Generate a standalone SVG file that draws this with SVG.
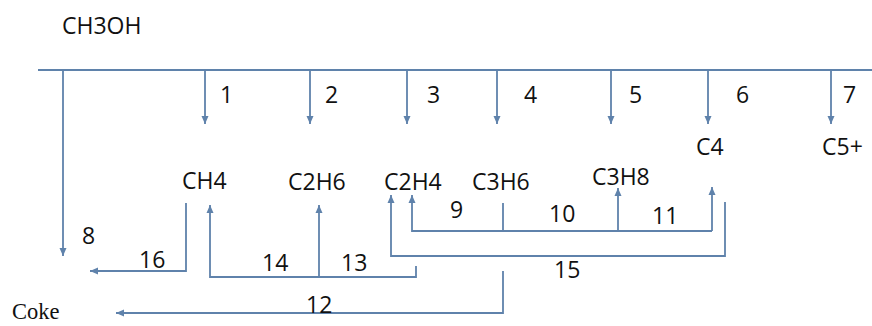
<svg xmlns="http://www.w3.org/2000/svg" width="872" height="326" viewBox="0 0 872 326">
<defs>
<marker id="ah" markerUnits="userSpaceOnUse" markerWidth="9" markerHeight="8" refX="8" refY="4" orient="auto">
<path d="M0,0.5 L8,4 L0,7.5 z" fill="#5f82ab"/>
</marker>
<style>
.t{font-family:"Open Sans","Liberation Sans",sans-serif;font-size:23px;fill:#111111}
.s{font-family:"Liberation Serif","Times New Roman",serif;font-size:22.5px;fill:#111111}
.c{fill:none;stroke:#5f82ab;stroke-width:1.8}
.a{fill:none;stroke:#5f82ab;stroke-width:1.8;marker-end:url(#ah)}
</style>
</defs>
<rect width="872" height="326" fill="#ffffff"/>
<g id="connectors">
<line class="c" x1="38" y1="70" x2="872" y2="70"/>
<line class="a" x1="63" y1="70" x2="63" y2="256"/>
<line class="a" x1="205" y1="70" x2="205" y2="124"/>
<line class="a" x1="310" y1="70" x2="310" y2="124"/>
<line class="a" x1="407" y1="70" x2="407" y2="124"/>
<line class="a" x1="497" y1="70" x2="497" y2="124"/>
<line class="a" x1="611" y1="70" x2="611" y2="124"/>
<line class="a" x1="708" y1="70" x2="708" y2="124"/>
<line class="a" x1="831" y1="70" x2="831" y2="124"/>
<polyline class="a" points="186,203 186,271 90,271"/>
<polyline class="a" points="416,266 416,277 210,277 210,205"/>
<line class="a" x1="319" y1="277" x2="319" y2="205"/>
<polyline class="a" points="725,202 725,256 391,256 391,195"/>
<polyline class="a" points="712,231 412,231 412,195"/>
<line class="a" x1="712" y1="231" x2="712" y2="187"/>
<line class="a" x1="618" y1="231" x2="618" y2="188"/>
<line class="c" x1="503" y1="203" x2="503" y2="231"/>
<polyline class="a" points="503,271 503,313 116,313"/>
</g>
<g id="n-ch3oh"><text class="t" x="62" y="34">CH3OH</text></g>
<g id="n-ch4"><text class="t" x="182" y="189">CH4</text></g>
<g id="n-c2h6"><text class="t" x="288" y="190">C2H6</text></g>
<g id="n-c2h4"><text class="t" x="384" y="190">C2H4</text></g>
<g id="n-c3h6"><text class="t" x="472" y="190">C3H6</text></g>
<g id="n-c3h8"><text class="t" x="592" y="185">C3H8</text></g>
<g id="n-c4"><text class="t" x="696" y="155">C4</text></g>
<g id="n-c5"><text class="t" x="822" y="155">C5+</text></g>
<g id="n-coke"><text class="s" x="12" y="319">Coke</text></g>
<g id="labels">
<text class="t" x="220" y="103">1</text>
<text class="t" x="325" y="103">2</text>
<text class="t" x="427" y="103">3</text>
<text class="t" x="524" y="103">4</text>
<text class="t" x="629" y="103">5</text>
<text class="t" x="736" y="103">6</text>
<text class="t" x="843" y="103">7</text>
<text class="t" x="82" y="244">8</text>
<text class="t" x="450" y="218">9</text>
<text class="t" x="549" y="222">10</text>
<text class="t" x="652" y="224">11</text>
<text class="t" x="306" y="313">12</text>
<text class="t" x="341" y="271">13</text>
<text class="t" x="262" y="271">14</text>
<text class="t" x="554" y="278">15</text>
<text class="t" x="139" y="268">16</text>
</g>
</svg>
